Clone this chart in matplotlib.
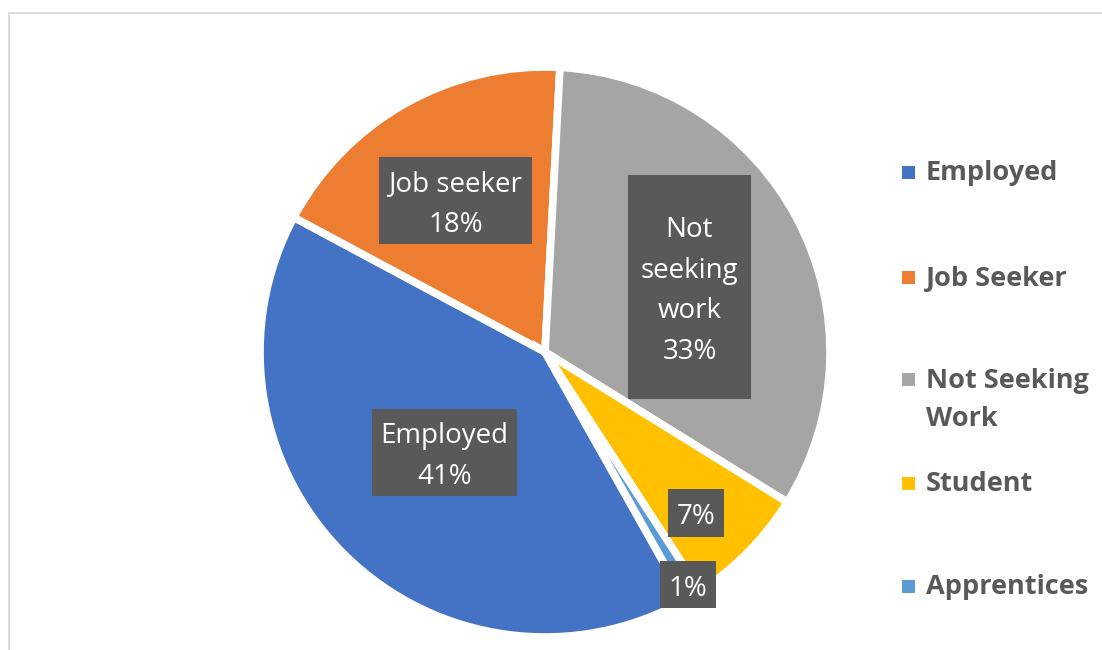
import matplotlib
matplotlib.use("Agg")
import matplotlib.pyplot as plt
from matplotlib.patches import Rectangle
from matplotlib.lines import Line2D

# ---- data ----
categories = ["Employed", "Job Seeker", "Not Seeking Work", "Student", "Apprentices"]
values = [41, 18, 33, 7, 1]
legend_labels = ["Employed", "Job Seeker", "Not Seeking\nWork", "Student", "Apprentices"]
slice_labels = ["Employed\n41%", "Job seeker\n18%", "Not\nseeking\nwork\n33%", "7%", "1%"]
colors = ["#4472C4", "#ED7D31", "#A5A5A5", "#FFC000", "#5B9BD5"]

# label box centres / sizes in pixels (layout)
label_center_px = [(444.5, 452.5), (455.5, 200.5), (689.5, 287), (696, 513), (688, 584.5)]
label_size_px = [(145, 87), (153, 87), (123, 224), (56, 48), (56, 47)]

W, H = 1102, 650
fig = plt.figure(figsize=(W / 100, H / 100), dpi=100)
fig.patch.set_facecolor("white")

def fx(px):
    return px / W

def fy(py):
    return 1 - py / H

# pie axes: centre (545, 352) px, radius 285 px
cx, cy, R = 545, 352, 285
ax = fig.add_axes([fx(cx - R), fy(cy + R), 2 * R / W, 2 * R / H])
total = sum(values)
rotation = 3.0  # Excel first-slice angle offset (deg, clockwise)
first_angle = 360 * (values[2] + values[3] + values[4]) / total + rotation
ax.pie(values, colors=colors, startangle=90 - first_angle, counterclock=False,
       radius=1.0, center=(0, 0),
       wedgeprops=dict(edgecolor="white", linewidth=5.5, joinstyle="miter"))
ax.set_xlim(-1, 1)
ax.set_ylim(-1, 1)
ax.set_aspect("equal")
ax.axis("off")

def to_data(px, py):
    return (px - cx) / R, (cy - py) / R

text_shift_px = 4
for lab, (px, py), (bw, bh) in zip(slice_labels, label_center_px, label_size_px):
    x, y = to_data(px, py)
    ax.add_patch(Rectangle((x - bw / 2 / R, y - bh / 2 / R), bw / R, bh / R,
                           facecolor="#595959", edgecolor="none", zorder=5))
    ax.text(x, y - text_shift_px / R, lab, ha="center", va="center", color="white",
            fontsize=20, family="Open Sans", linespacing=1.6, zorder=6)

# legend (manual, Excel-like)
legend_y = [172.5, 277.5, 379, 483, 586.5]
pitch = 38.5
for lab, col, y in zip(legend_labels, colors, legend_y):
    fig.add_artist(Rectangle((fx(902), fy(y + 6.5)), 13 / W, 13 / H,
                             transform=fig.transFigure, facecolor=col, edgecolor="none"))
    n = lab.count("\n")
    fig.text(fx(926), fy(y + 8 + n * pitch), lab, ha="left", va="baseline", color="#595959",
             fontsize=19.5, fontweight="bold", family="Open Sans", linespacing=1.575)

# chart area border (partially visible)
fig.add_artist(Line2D([fx(8.5), fx(8.5)], [fy(12.5), 0], transform=fig.transFigure,
                      color="#D9D9D9", linewidth=1.3))
fig.add_artist(Line2D([fx(8.5), 1], [fy(12.5), fy(12.5)], transform=fig.transFigure,
                      color="#D9D9D9", linewidth=1.3))

fig.savefig("out.png", dpi=100)
